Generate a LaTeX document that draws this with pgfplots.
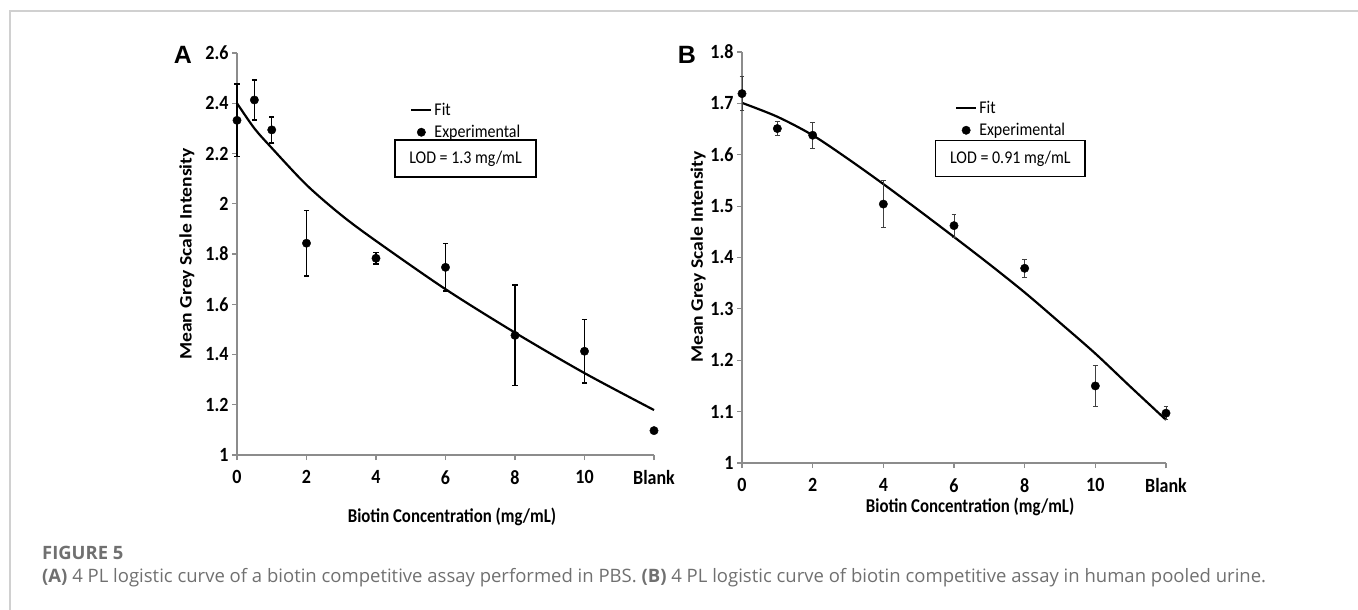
\documentclass[border=0pt]{standalone}
\usepackage{pgfplots}
\pgfplotsset{compat=1.18}
\usepackage{fontspec}
\setmainfont{Carlito}
\newfontfamily\arialfont{Liberation Sans}
\newfontfamily\capfont{Open Sans}
\definecolor{axgray}{HTML}{8C8C8C}
\definecolor{framegray}{HTML}{D0D0D0}
\definecolor{capgray}{HTML}{707070}
\newcommand{\vs}[1]{\scalebox{1}[1.12]{#1}}

\pgfplotsset{
  myax/.style={
    scale only axis, clip=false,
    axis x line*=bottom, axis y line*=left,
    axis line style={axgray, line width=1.8pt, -},
    tick style={axgray, line width=1.2pt},
    tick align=outside, major tick length=5pt,
    xmin=0, xmax=12, xtick={0,2,4,6,8,10,12},
    xticklabels={\vs{0},\vs{2},\vs{4},\vs{6},\vs{8},\vs{10},\vs{Blank}},
    yticklabel={\vs{\pgfmathprintnumber{\tick}}},
    ticklabel style={font=\fontsize{18}{20}\selectfont\bfseries},
    xticklabel style={yshift=-7pt},
    /pgf/number format/assume math mode=true,
    label style={font=\fontsize{17.5}{20}\selectfont\bfseries},
    legend style={draw=none, fill=none, font=\fontsize{16}{18}\selectfont,
      inner sep=0pt, row sep=4pt, cells={anchor=west}},
    legend cell align=left,
  },
  fitline/.style={black, line width=2.2pt, smooth, no marks,
    legend image code/.code={\draw[black, line width=2.2pt] (0pt,0pt) -- (20pt,0pt);}},
  expts/.style={black, only marks, mark=*, mark size=4.2pt,
    legend image code/.code={\fill[black] (10pt,0pt) circle (4.2pt);}},
}

\begin{document}
\begin{tikzpicture}
\useasboundingbox (0,0) rectangle (1358pt,-610pt);
\draw[framegray, line width=1.5pt] (10pt,-610pt) -- (10pt,-11pt) -- (1358pt,-11pt);

% Panel A
\begin{axis}[myax,
  at={(237pt,-455pt)}, anchor=origin,
  width=417pt, height=402pt,
  ymin=1, ymax=2.6,
  ytick={1,1.2,1.4,1.6,1.8,2,2.2,2.4,2.6},
  xlabel={\scalebox{0.96}[1.12]{Biotin Concentration (mg/mL)}},
  ylabel={\scalebox{1.12}[1]{Mean Grey Scale Intensity}},
  xlabel style={at={(axis description cs:0.5156,-0.154)}, anchor=center},
  ylabel style={at={(axis description cs:-0.12,0.5)}, anchor=center},
  legend style={at={(axis description cs:0.415,0.880)}, anchor=north west},
]
\addplot[fitline] coordinates {
 (0,2.400) (0.5,2.300) (1,2.222) (2,2.075) (3,1.955) (4,1.852)
 (6,1.660) (8,1.487) (10,1.326) (12,1.179)};
\addlegendentry{\vs{Fit}}
\addplot[expts, error bars/.cd, y dir=both, y explicit,
  error bar style={black, line width=1.4pt},
  error mark options={rotate=90, mark size=2.6pt, line width=1.4pt}]
 coordinates {
 (0,2.332) +- (0,0.144)
 (0.5,2.413) +- (0,0.080)
 (1,2.294) +- (0,0.052)
 (2,1.843) +- (0,0.131)
 (4,1.783) +- (0,0.022)
 (6,1.747) +- (0,0.094)
 (8,1.476) +- (0,0.200)
 (10,1.413) +- (0,0.126)
 (12,1.097) +- (0,0.000)};
\addlegendentry{\vs{Experimental}}
\node[draw=black, line width=1.2pt, minimum width=141pt, minimum height=37pt,
  inner sep=0pt, font=\fontsize{16}{18}\selectfont]
  at (axis description cs:0.548,0.7376) {\vs{LOD = 1.3 mg/mL}};
\end{axis}

% Panel B
\begin{axis}[myax,
  at={(742pt,-463pt)}, anchor=origin,
  width=424pt, height=411pt,
  ymin=1, ymax=1.8,
  ytick={1,1.1,1.2,1.3,1.4,1.5,1.6,1.7,1.8},
  xlabel={\scalebox{0.96}[1.12]{Biotin Concentration (mg/mL)}},
  ylabel={\scalebox{1.12}[1]{Mean Grey Scale Intensity}},
  xlabel style={at={(axis description cs:0.538,-0.107)}, anchor=center},
  ylabel style={at={(axis description cs:-0.1038,0.501)}, anchor=center},
  legend style={at={(axis description cs:0.502,0.885)}, anchor=north west},
]
\addplot[fitline] coordinates {
 (0,1.701) (1,1.674) (2,1.638) (3,1.592) (4,1.543) (5,1.492) (6,1.440)
 (7,1.387) (8,1.332) (9,1.273) (10,1.213) (11,1.148) (12,1.084)};
\addlegendentry{\vs{Fit}}
\addplot[expts, error bars/.cd, y dir=both, y explicit,
  error bar style={black!75, line width=0.9pt},
  error mark options={rotate=90, mark size=2.4pt, line width=0.9pt, black!75}]
 coordinates {
 (0,1.719) +- (0,0.033)
 (1,1.651) +- (0,0.014)
 (2,1.638) +- (0,0.025)
 (4,1.504) +- (0,0.046)
 (6,1.462) +- (0,0.022)
 (8,1.379) +- (0,0.017)
 (10,1.150) +- (0,0.040)
 (12,1.097) +- (0,0.013)};
\addlegendentry{\vs{Experimental}}
\node[draw=black, line width=1.2pt, minimum width=149pt, minimum height=36pt,
  inner sep=0pt, font=\fontsize{16}{18}\selectfont]
  at (axis description cs:0.633,0.740) {\vs{LOD = 0.91 mg/mL}};
\end{axis}

\node[font=\arialfont\bfseries\fontsize{25}{28}\selectfont] at (183pt,-55pt) {A};
\node[font=\arialfont\bfseries\fontsize{25}{28}\selectfont] at (687pt,-55pt) {B};

\node[anchor=west, inner sep=0pt, text=capgray, font=\capfont\bfseries\fontsize{18.4}{20}\selectfont]
  at (42pt,-553pt) {FIGURE 5};
\node[anchor=west, inner sep=0pt, text=capgray, font=\capfont\fontsize{18.5}{20}\selectfont]
  at (42pt,-578pt) {{\bfseries (A)} 4 PL logistic curve of a biotin competitive assay performed in PBS. {\bfseries (B)} 4 PL logistic curve of biotin competitive assay in human pooled urine.};
\end{tikzpicture}
\end{document}
